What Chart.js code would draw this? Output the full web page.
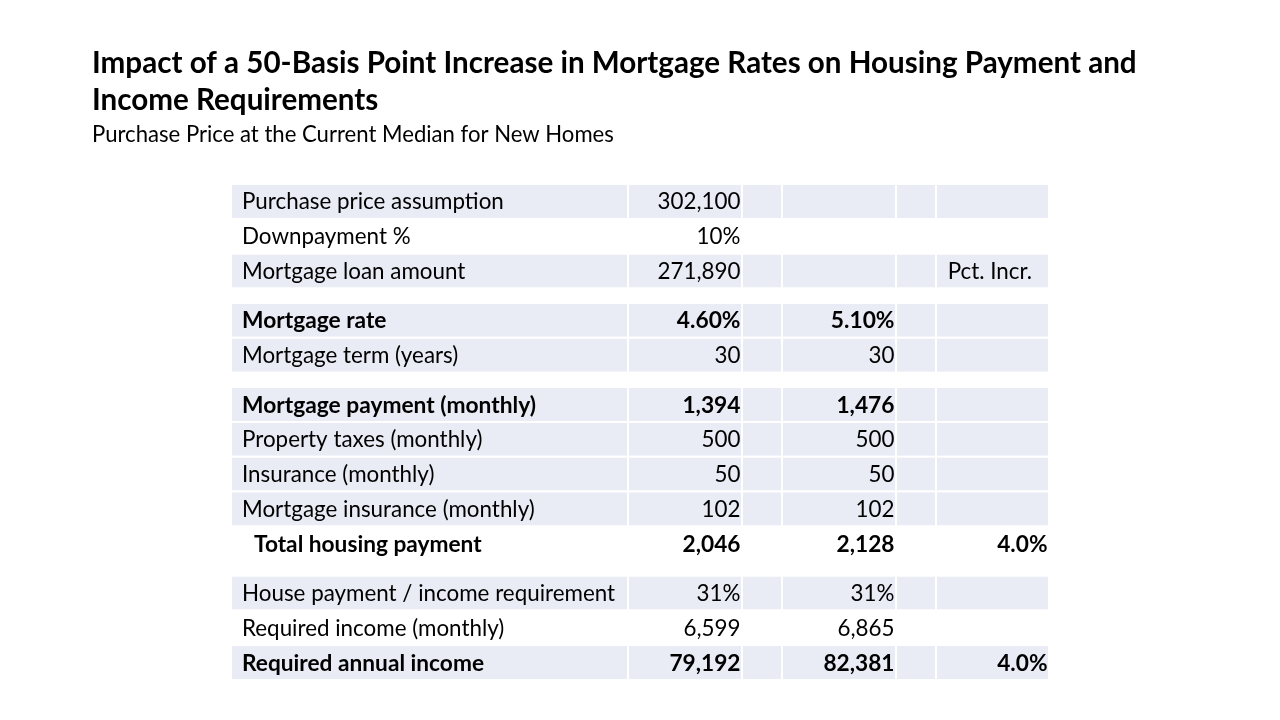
<!DOCTYPE html>
<html>
<head>
<meta charset="utf-8">
<title>Impact of a 50-Basis Point Increase in Mortgage Rates</title>
<script src="https://cdn.jsdelivr.net/npm/chart.js@4.4.1/dist/chart.umd.min.js"></script>
<style>
  html, body { margin: 0; padding: 0; background: #fff; overflow: hidden; }
  canvas { display: block; }
</style>
</head>
<body>
<canvas id="paymentTable" width="1280" height="720"></canvas>
<script>
// ---- data ----
const titleLines = [
    "Impact of a 50-Basis Point Increase in Mortgage Rates on Housing Payment and",
    "Income Requirements"
];
const subtitle = "Purchase Price at the Current Median for New Homes";

const rowLabels = [
    "Purchase price assumption",
    "Downpayment %",
    "Mortgage loan amount",
    "Mortgage rate",
    "Mortgage term (years)",
    "Mortgage payment (monthly)",
    "Property taxes (monthly)",
    "Insurance (monthly)",
    "Mortgage insurance (monthly)",
    "Total housing payment",
    "House payment / income requirement",
    "Required income (monthly)",
    "Required annual income"
];
const currentRate = [302100, 0.10, 271890, 0.046, 30, 1394, 500, 50, 102, 2046, 0.31, 6599, 79192];
const higherRate  = [null, null, null, 0.051, 30, 1476, 500, 50, 102, 2128, 0.31, 6865, 82381];
const pctIncrease = [null, null, null, null, null, null, null, null, null, 0.040, null, null, 0.040];
const pctHeader = "Pct. Incr.";
const pctHeaderRow = 2;
const rowFormats = ["int", "pct0", "int", "pct2", "int", "int", "int", "int", "int", "int", "pct0", "int", "int"];
const sectionSizes = [3, 2, 5, 3];

// ---- table look ----
const shadedRows = new Set([0, 2, 3, 4, 5, 6, 7, 8, 10, 12]);
const boldRows = new Set([3, 5, 9, 12]);
const condensedRows = new Set([9, 12]);
const indentedRows = new Set([9]);
const colEdges = [0, 397, 511, 551, 665, 705, 818]; // table units (px from table left)
const sectionGap = 0.42;
const cellFill = "#E9EBF5";
const FONT = "Lato, 'Open Sans', sans-serif";

function fmt(v, kind) {
    if (v === null || v === undefined) return "";
    if (kind === "pct0") return (v * 100).toFixed(0) + "%";
    if (kind === "pct1") return (v * 100).toFixed(1) + "%";
    if (kind === "pct2") return (v * 100).toFixed(2) + "%";
    return v.toLocaleString("en-US");
}

// row centres on the y scale, with a gap between sections
const rowPos = [];
let u = 0;
sectionSizes.forEach((n, s) => {
    for (let k = 0; k < n; k++) { rowPos.push(u + 0.5); u += 1; }
    if (s < sectionSizes.length - 1) u += sectionGap;
});
const totalUnits = u;

// size fonts so the widths match the reference text
const probe = document.createElement("canvas").getContext("2d");
function measure(text, weight, size) {
    probe.font = `${weight} ${size}px ${FONT}`;
    return probe.measureText(text).width;
}
const cellSize = 100 * 262 / measure("Purchase price assumption", 400, 100);
const titleSize = 100 * 1045 / measure(titleLines[0], 700, 100);
const subSize = 100 * 522 / measure(subtitle, 400, 100);
const boldScale = 294 / measure("Mortgage payment (monthly)", 700, cellSize);
const condScale = 242 / measure("Required annual income", 700, cellSize);

// one floating-bar dataset per column; each bar is a shaded cell
const datasets = colEdges.slice(0, -1).map((x0, c) => ({
    label: "col" + c,
    data: rowLabels
        .map((_, i) => i)
        .filter(i => shadedRows.has(i))
        .map(i => ({ x: [x0, colEdges[c + 1]], y: rowPos[i] })),
    backgroundColor: cellFill,
    borderColor: "#FFFFFF",
    borderWidth: { left: 1, right: 1, top: 0, bottom: 0 },
    borderSkipped: false,
    grouped: false,
    barPercentage: 0.95,
    categoryPercentage: 1
}));

const headings = {
    id: "headings",
    beforeDraw(chart) {
        const ctx = chart.ctx;
        ctx.save();
        ctx.fillStyle = "#000";
        ctx.textAlign = "left";
        ctx.textBaseline = "alphabetic";
        ctx.font = `700 ${titleSize}px ${FONT}`;
        ctx.fillText(titleLines[0], 92, 73);
        ctx.fillText(titleLines[1], 92, 110);
        ctx.font = `400 ${subSize}px ${FONT}`;
        ctx.fillText(subtitle, 92, 142);
        ctx.restore();
    }
};

function drawText(ctx, text, x, y, align, sx) {
    ctx.save();
    ctx.translate(x, y);
    ctx.scale(sx, 1);
    ctx.textAlign = align;
    ctx.fillText(text, 0, 0);
    ctx.restore();
}

const cellText = {
    id: "cellText",
    afterDatasetsDraw(chart) {
        const { ctx, scales: { x, y } } = chart;
        const capHalf = cellSize * 0.72 / 2;
        ctx.save();
        ctx.fillStyle = "#000";
        ctx.textBaseline = "alphabetic";
        rowLabels.forEach((label, i) => {
            const base = y.getPixelForValue(rowPos[i]) + capHalf;
            const bold = boldRows.has(i);
            const sx = condensedRows.has(i) ? condScale : (bold ? boldScale : 1);
            ctx.font = `${bold ? 700 : 400} ${cellSize}px ${FONT}`;
            const left = x.getPixelForValue(colEdges[0]) + 11 + (indentedRows.has(i) ? 12 : 0);
            drawText(ctx, label, left, base, "left", sx);
            const cols = [
                [currentRate[i], 2, rowFormats[i]],
                [higherRate[i], 4, rowFormats[i]],
                [pctIncrease[i], 6, "pct1"]
            ];
            cols.forEach(([v, edge, kind]) => {
                const txt = fmt(v, kind);
                if (txt) drawText(ctx, txt, x.getPixelForValue(colEdges[edge]) - 1.5, base, "right", sx);
            });
            if (i === pctHeaderRow) {
                ctx.font = `400 ${cellSize}px ${FONT}`;
                drawText(ctx, pctHeader, x.getPixelForValue(colEdges[6]) - 17, base, "right", 1);
            }
        });
        ctx.restore();
    }
};

new Chart(document.getElementById("paymentTable"), {
    type: "bar",
    data: { datasets: datasets },
    options: {
        indexAxis: "y",
        responsive: false,
        animation: false,
        devicePixelRatio: 1,
        layout: { padding: { left: 231, right: 231, top: 184, bottom: 40 } },
        scales: {
            x: { type: "linear", min: 0, max: 818, offset: false, display: false },
            y: { type: "linear", min: 0, max: totalUnits, reverse: true, offset: false, display: false }
        },
        plugins: {
            legend: { display: false },
            title: { display: false },
            tooltip: { enabled: false }
        },
        events: []
    },
    plugins: [headings, cellText]
});
</script>
</body>
</html>
